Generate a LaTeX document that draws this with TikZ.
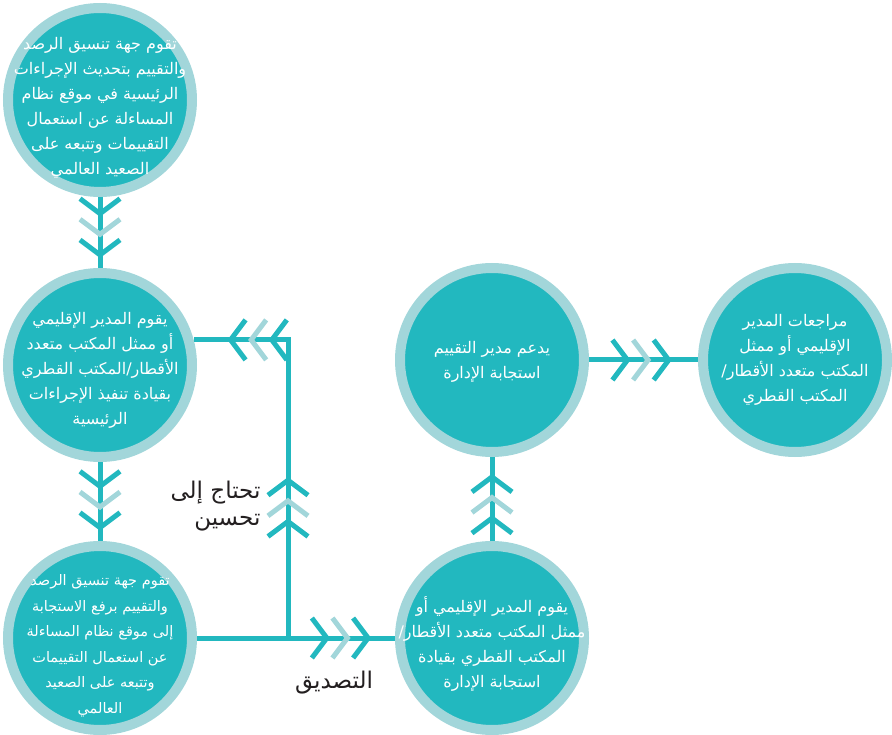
\documentclass[tikz,border=0pt]{standalone}
\usepackage{fontspec}
\newfontfamily\arabicfont[Script=Arabic]{DejaVu Sans}
\TeXXeTstate=1
\usetikzlibrary{arrows.meta,positioning,decorations.markings}
\definecolor{StepTeal}{HTML}{22B8BF}
\definecolor{StepRing}{HTML}{A2D6DA}
\definecolor{StepDark}{HTML}{231F20}
\newcommand{\rl}[1]{\beginR #1\endR}
\tikzset{
  triplechev/.tip={Straight Barb[length=15pt,width=40pt,line width=5pt,color=StepTeal]
    Straight Barb[length=15pt,width=40pt,line width=5pt,color=StepRing]
    Straight Barb[length=15pt,width=40pt,line width=5pt,color=StepTeal]},
  stage/.style={circle,draw=StepRing,fill=StepTeal,line width=10pt,minimum size=184pt,inner sep=0pt},
  stagetext/.style={align=center,text=white,font=\arabicfont\fontsize{16}{25}\selectfont},
  pathlabel/.style={align=right,text=StepDark,font=\arabicfont\fontsize{23}{27}\selectfont},
  flowline/.style={line width=5pt,draw=StepTeal},
  chevrons/.style={postaction={decorate,decoration={markings,mark=at position #1 with {\arrow{triplechev}}}}}
}
\begin{document}
\begin{tikzpicture}[x=1pt,y=-1pt]
\useasboundingbox (0,0) rectangle (892,735);
% stages
\node[stage] (c1) at (100,100) {};
\node[stage] (c2) at (100,365) {};
\node[stage] (c3) at (100,638) {};
\node[stage] (c4) at (492,638) {};
\node[stage] (c5) at (492,360) {};
\node[stage] (c6) at (795,360) {};
\node[stagetext] (t1) at ([yshift=-8pt]c1.center) {\rl{تقوم جهة تنسيق الرصد}\\\rl{والتقييم بتحديث الإجراءات}\\\rl{الرئيسية في موقع نظام}\\\rl{المساءلة عن استعمال}\\\rl{التقييمات وتتبعه على}\\\rl{الصعيد العالمي}};
\node[stagetext] (t2) at ([yshift=-5pt]c2.center) {\rl{يقوم المدير الإقليمي}\\\rl{أو ممثل المكتب متعدد}\\\rl{الأقطار/المكتب القطري}\\\rl{بقيادة تنفيذ الإجراءات}\\\rl{الرئيسية}};
\node[stagetext,font=\arabicfont\fontsize{14.5}{25.5}\selectfont] (t3) at ([yshift=-8pt]c3.center) {\rl{تقوم جهة تنسيق الرصد}\\\rl{والتقييم برفع الاستجابة}\\\rl{إلى موقع نظام المساءلة}\\\rl{عن استعمال التقييمات}\\\rl{وتتبعه على الصعيد}\\\rl{العالمي}};
\node[stagetext] (t4) at ([yshift=-6pt]c4.center) {\rl{يقوم المدير الإقليمي أو}\\\rl{ممثل المكتب متعدد الأقطار/}\\\rl{المكتب القطري بقيادة}\\\rl{استجابة الإدارة}};
\node[stagetext] (t5) at ([yshift=-2pt]c5.center) {\rl{يدعم مدير التقييم}\\\rl{استجابة الإدارة}};
\node[stagetext] (t6) at (c6.center) {\rl{مراجعات المدير}\\\rl{الإقليمي أو ممثل}\\\rl{المكتب متعدد الأقطار/}\\\rl{المكتب القطري}};
% labels
\node[pathlabel,anchor=east] (fixlbl) at (264,506) {\rl{تحتاج إلى}\\\rl{تحسين}};
\node[pathlabel] (oklbl) at (334,683) {\rl{التصديق}};
% connectors
\coordinate (jn) at (288,0 |- c3);
\draw[flowline,chevrons=0.86] (c1) -- (c2);
\draw[flowline,chevrons=0.87] (c2) -- (c3);
\draw[flowline,chevrons=0.88] (c3) -- (c4);
\draw[flowline,chevrons=0.8] (c4) -- (c5);
\draw[flowline,chevrons=0.76] (c5) -- (c6);
\draw[flowline,chevrons=0.41,chevrons=0.914] (jn) |- (c2.15);
\end{tikzpicture}
\end{document}
